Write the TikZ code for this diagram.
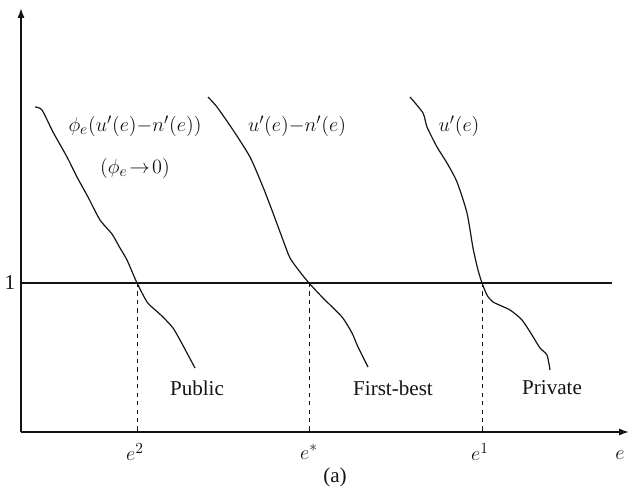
\documentclass[tikz,border=0pt]{standalone}
\usepackage{fontspec}
\setmainfont{Liberation Serif}
\usetikzlibrary{arrows.meta}
\definecolor{inkblack}{RGB}{20,20,20}

\begin{document}
\begin{tikzpicture}[x=0.025cm,y=-0.025cm,
  axis/.style={line width=1.1pt,color=inkblack,-{Latex[length=7pt,width=5pt]}},
  curve/.style={line width=0.85pt,color=inkblack},
  guide/.style={dashed,line width=0.7pt,color=inkblack},
  lbl/.style={font=\fontsize{15}{18}\selectfont,color=inkblack,inner sep=0pt}]
\useasboundingbox(0,0)rectangle(630,492);
\coordinate(O)at(21,432);
\coordinate(ytop)at(21,8);
\coordinate(xend)at(629,432);
\coordinate(oneL)at(21,283);
\coordinate(oneR)at(612,283);
\coordinate(c2)at(137,283);
\coordinate(cs)at(309,283);
\coordinate(c1)at(482,283);
\draw[axis](O)--(ytop);
\draw[axis](O)--(xend);
\draw[curve](oneL)--(oneR);
\foreach \c in {c2,cs,c1}
  \draw[guide](\c)--(\c|-O);
\draw[curve,smooth,tension=0.4]plot coordinates{(35,107)(42,110)(53,132)(67,157)(77,177)
  (88,197)(100,220)(112,234)(120,248)(127,260)(137,283)(147,302)(153,308)(163,317)
  (173,328)(180,340)(187,353)(195,368)};
\draw[curve,smooth,tension=0.4]plot coordinates{(208,97)(217,107)(233,130)(250,157)
  (263,187)(273,213)(283,240)(290,258)(300,272)(309,283)(323,298)(342,317)(352,333)
  (358,347)(368,367)};
\draw[curve,smooth,tension=0.4]plot coordinates{(410,97)(423,113)(427,127)(437,147)
  (447,163)(457,182)(467,213)(473,248)(478,270)(482,283)(487,295)(493,302)(510,310)
  (522,320)(532,335)(540,348)(547,355)(550,370)};
\node[lbl](one)at(10,283){1};
\node[lbl](lblphi)at(135,126){$\phi_e(u'(e){-}n'(e))$};
\node[lbl](lbllim)at(135,168){$(\phi_e\!\rightarrow\!0)$};
\node[lbl](lblfb)at(297,126){$u'(e){-}n'(e)$};
\node[lbl](lblu)at(459,126){$u'(e)$};
\node[lbl](pub)at(197,388){Public};
\node[lbl](fb)at(393,388){First-best};
\node[lbl](priv)at(552,388){Private};
\node[lbl](te2)at(135,452){$e^2$};
\node[lbl](tes)at(309,452){$e^*$};
\node[lbl](te1)at(480,452){$e^1$};
\node[lbl](te)at(620,455){$e$};
\node[lbl](cap)at(335,477){(a)};
\end{tikzpicture}
\end{document}
